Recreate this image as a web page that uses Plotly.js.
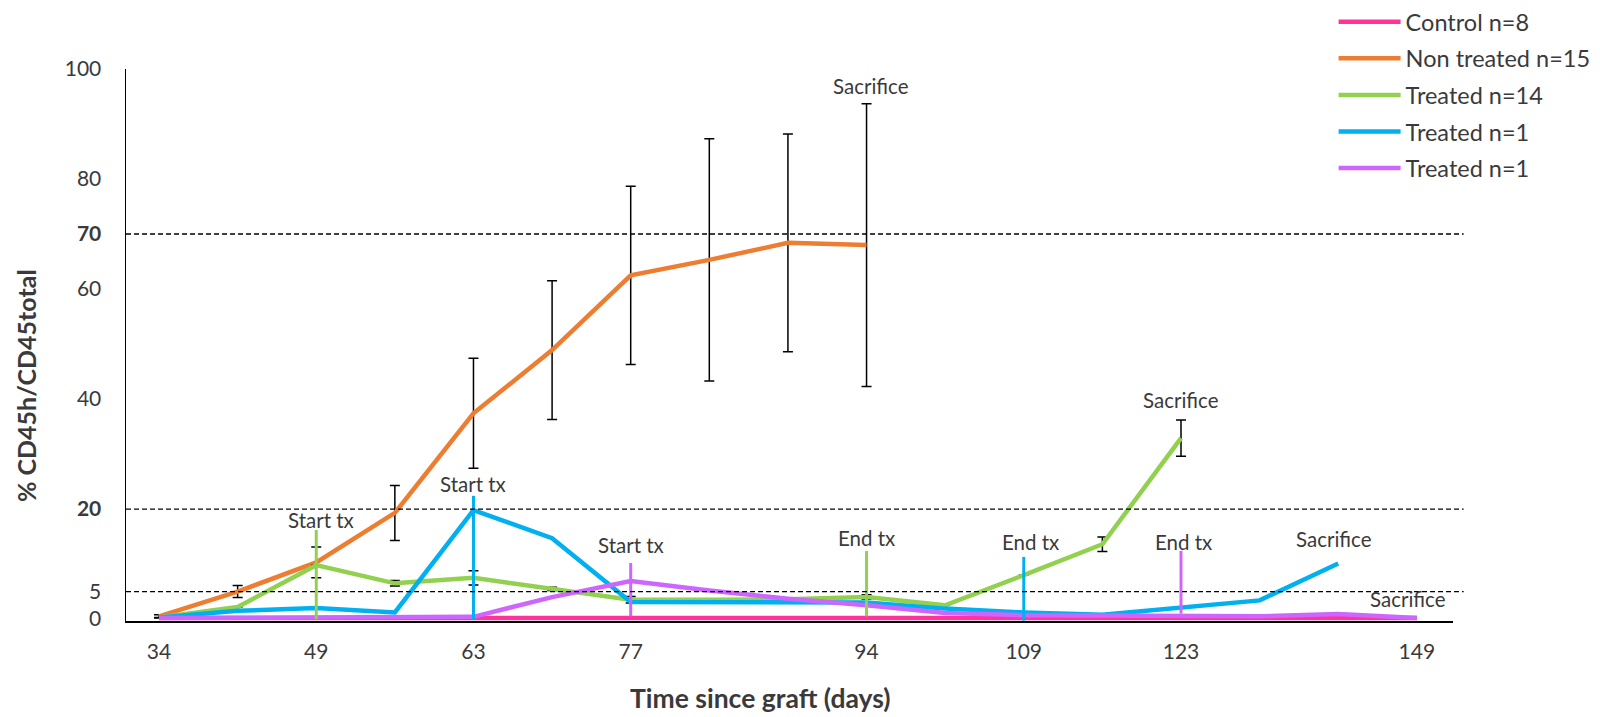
<!DOCTYPE html>
<html>
<head>
<meta charset="utf-8">
<script src="https://cdn.plot.ly/plotly-3.0.1.min.js"></script>
<style>html,body{margin:0;padding:0;background:#fff;}#chart{width:1600px;height:717px;}</style>
</head>
<body>
<div id="chart"></div>
<script>
// Categories (days since graft) - only some are labelled on the axis
const days = ['34','41','49','56','63','70','77','84','91','94','102','109','116','123','130','137','149'];
const tickDays = ['34','49','63','77','94','109','123','149'];

// Series values (% CD45h / CD45total)
const control      = [0.2,0.2,0.2,0.2,0.2,0.2,0.2,0.2,0.2,0.2,0.2,0.2,0.2,0.2,0.2,0.2,0.2];
const nonTreated   = [0.5,5.0,10.3,19.3,37.4,48.9,62.5,65.3,68.4,68.0];
const nonTreatedErr= [0.3,1.1,2.8,5.0,10.0,12.6,16.2,22.0,19.8,25.7];
const treated14    = [0.3,2.2,9.8,6.5,7.5,5.5,3.5,3.5,3.6,4.0,2.5,8.0,13.6,32.9];
const treated14Err = [0,0,0,0.5,1.3,0.3,0.6,0,0,0.4,0,0,1.3,3.3];
const treatedBlue  = [0.3,1.5,2.0,1.2,19.8,14.7,3.1,3.1,3.1,3.0,1.9,1.2,0.8,2.2,3.4,10.1];
const treatedPurple= [0.2,0.3,0.4,0.3,0.4,4.0,6.9,5.2,3.7,2.5,1.1,0.7,0.7,0.7,0.5,0.9,0.2];

const seriesNames = ['Control n=8','Non treated n=15','Treated n=14','Treated n=1','Treated n=1'];
const seriesColors = ['#FF3399','#ED7D31','#92D050','#00B0F0','#CC66FF'];

// Treatment marker bars (start / end of treatment)
const markDays   = ['49','63','77','94','109','123'];
const markTop    = [16.2,22.4,10.2,12.4,11.3,12.4];
const markBottom = [0,0,0.5,0.5,-0.3,1.0];
const markSeries = [2,3,4,2,3,4];

// Text notes
const noteText  = ['Start tx','Start tx','Start tx','End tx','End tx','End tx','Sacrifice','Sacrifice','Sacrifice','Sacrifice'];
const noteDay   = ['49','63','77','94','109','123','94','123','137','149'];
const noteLevel = [18,24.5,13.5,14.7,14,14,97,39.8,14.5,3.6];
const noteShift = [5,0,0,0,7,2,4,0,-4,-9];

// Reference lines
const refLevels = [5,20,70];

const FONT = 'Lato, "Open Sans", sans-serif';
const TXT = '#3a3a3a';

const valueSets = [control, nonTreated, treated14, treatedBlue, treatedPurple];
const errSets = [null, nonTreatedErr, treated14Err, null, null];

const traces = [];
valueSets.forEach((vals, i) => {
  const t = {
    type:'scatter', mode:'lines',
    x: days.slice(0, vals.length), y: vals,
    name: seriesNames[i], legendgroup:'g'+i,
    line:{color: seriesColors[i], width:4.5},
    hoverinfo:'x+y'
  };
  if (errSets[i]) {
    t.error_y = {type:'data', array: errSets[i], visible:true, color:'#000', thickness:1.5, width:5};
  }
  traces.push(t);
});

markDays.forEach((d, i) => {
  traces.push({
    type:'scatter', mode:'lines',
    x:[d, d], y:[markBottom[i], markTop[i]],
    line:{color: seriesColors[markSeries[i]], width:3},
    showlegend:false, hoverinfo:'skip'
  });
});

const annotations = noteText.map((t, i) => ({
  x: days.indexOf(noteDay[i]), y: noteLevel[i], xref:'x', yref:'y',
  text: t, showarrow:false, xshift: noteShift[i],
  font:{family:FONT, size:20.5, color:TXT}
}));

annotations.push({
  xref:'paper', yref:'paper', x:(760-126)/1327, y:(621-698)/552, xanchor:'center', yanchor:'middle',
  text:'<b>Time since graft (days)</b>', showarrow:false,
  font:{family:FONT, size:26.5, color:TXT}
});
annotations.push({
  xref:'paper', yref:'paper', x:(26-126)/1327, y:(621-385)/552, xanchor:'center', yanchor:'middle',
  text:'<b>% CD45h/CD45total</b>', showarrow:false, textangle:-90,
  font:{family:FONT, size:25, color:TXT}
});

const shapes = refLevels.map(v => ({
  type:'line', xref:'paper', yref:'y', x0:0, x1:1.008, y0:v, y1:v,
  line:{color:'#000', width:1.3, dash:'5px,3px'}
}));

const yTickVals = [0,5,20,40,60,70,80,100];
const yTickText = ['0','5','<b>20</b>','40','60','<b>70</b>','80','100'];

const layout = {
  width:1600, height:717,
  margin:{l:126, r:147, t:69, b:96, autoexpand:false},
  paper_bgcolor:'#fff', plot_bgcolor:'#fff',
  font:{family:FONT, color:TXT},
  showlegend:true,
  legend:{xref:'container', yref:'container', x:0.8335, y:1.0, xanchor:'left', yanchor:'top',
          font:{family:FONT, size:23.5, color:TXT}, itemwidth:62, tracegroupgap:3, bgcolor:'rgba(0,0,0,0)'},
  xaxis:{type:'category', categoryorder:'array', categoryarray:days, range:[-0.42,16.46],
         tickmode:'array', tickvals:tickDays, ticktext:tickDays,
         showgrid:false, zeroline:false, showline:true, linecolor:'#000', linewidth:1.5,
         ticks:'', tickfont:{family:FONT, size:21, color:TXT}, ticklabelstandoff:11, fixedrange:true},
  yaxis:{range:[-0.35,100], tickmode:'array', tickvals:yTickVals, ticktext:yTickText,
         showgrid:false, zeroline:false, showline:true, linecolor:'#000', linewidth:1.5,
         ticks:'', tickfont:{family:FONT, size:21, color:TXT}, ticklabelstandoff:19, fixedrange:true},
  annotations: annotations,
  shapes: shapes
};

Plotly.newPlot('chart', traces, layout, {displayModeBar:false, staticPlot:true});
</script>
</body>
</html>
